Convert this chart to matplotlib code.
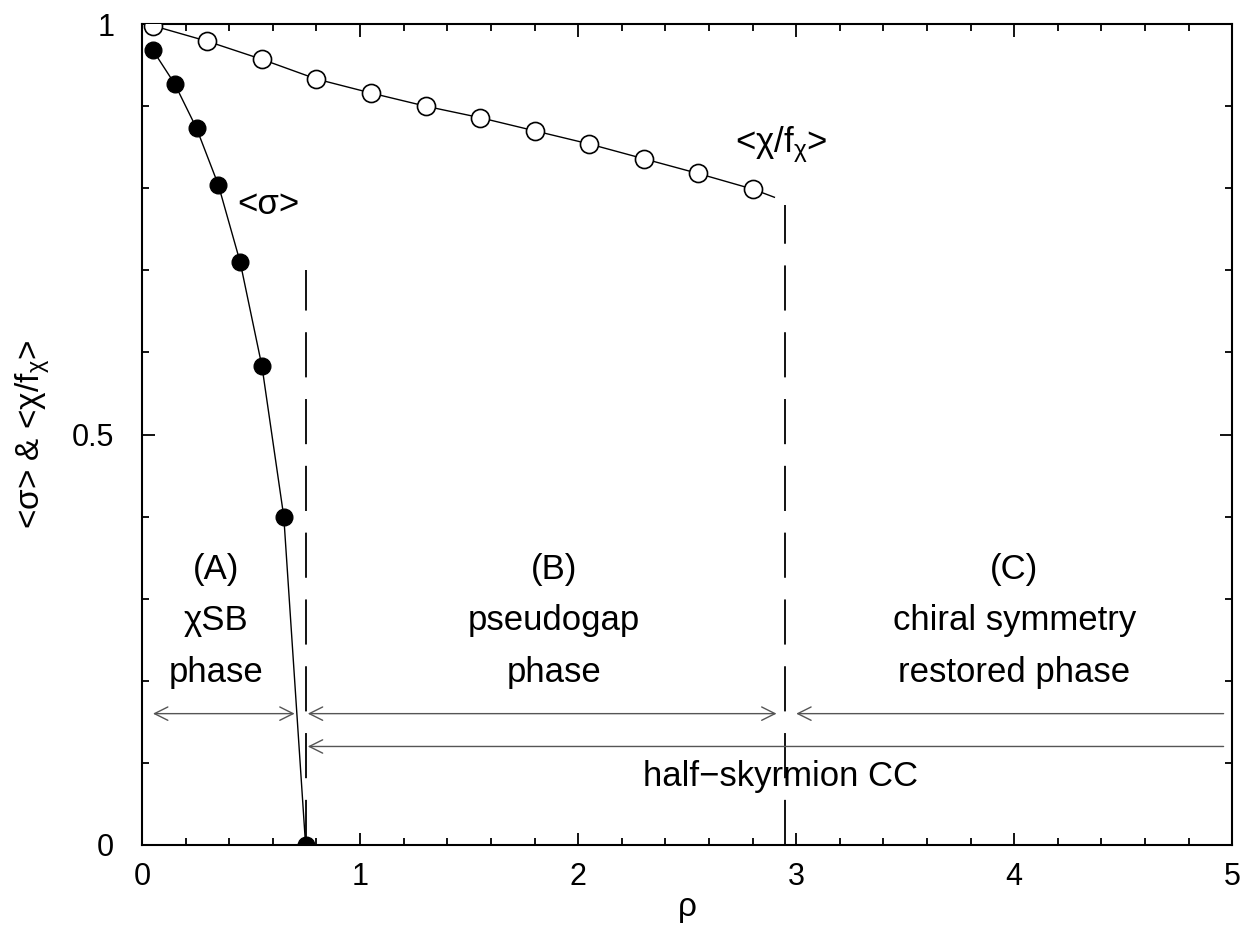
import numpy as np
import matplotlib.pyplot as plt

plt.rcParams['font.family'] = ['Liberation Sans', 'DejaVu Sans']
plt.rcParams['mathtext.fontset'] = 'custom'
plt.rcParams['mathtext.rm'] = 'Liberation Sans'
plt.rcParams['mathtext.it'] = 'Liberation Sans'

# <sigma> (filled circles)
rho_sigma = [0.05, 0.15, 0.25, 0.35, 0.45, 0.55, 0.65, 0.75]
sigma = [0.968, 0.927, 0.873, 0.804, 0.710, 0.583, 0.400, 0.0]

# <chi/f_chi> (open circles)
rho_chi = [0.05, 0.30, 0.55, 0.80, 1.05, 1.30, 1.55, 1.80, 2.05, 2.30, 2.55, 2.80]
chi = [0.998, 0.979, 0.957, 0.933, 0.916, 0.900, 0.886, 0.870, 0.854, 0.836, 0.818, 0.799]
# the connecting line runs a bit past the last point
chi_line_end = (2.90, 0.789)

# phase boundaries
rho_b1 = 0.75
rho_b2 = 2.95

fig = plt.figure(figsize=(12.46, 9.25), dpi=100)
ax = fig.add_axes([0.114, 0.0865, 0.875, 0.8875])

# lines + markers
ax.plot(rho_sigma, sigma, color='black', lw=1.0, zorder=2)
ax.plot(rho_sigma, sigma, 'o', color='black', ms=12, zorder=3)
ax.plot(rho_chi + [chi_line_end[0]], chi + [chi_line_end[1]], color='black', lw=1.0, zorder=2)
ax.plot(rho_chi, chi, 'o', mfc='white', mec='black', mew=1.2, ms=13, zorder=3)

# dashed boundaries
ax.plot([rho_b1, rho_b1], [0, 0.70], color='black', lw=1.3, dashes=(25, 12), zorder=1)
ax.plot([rho_b2, rho_b2], [0, 0.78], color='black', lw=1.3, dashes=(25, 12), zorder=1)

# arrows
akw = dict(color='#555555', lw=1.0, mutation_scale=24, shrinkA=0, shrinkB=0)
ax.annotate('', xy=(0.70, 0.16), xytext=(0.05, 0.16),
            arrowprops=dict(arrowstyle='<->', **akw))
ax.annotate('', xy=(2.91, 0.16), xytext=(0.76, 0.16),
            arrowprops=dict(arrowstyle='<->', **akw))
ax.annotate('', xy=(3.0, 0.16), xytext=(4.96, 0.16),
            arrowprops=dict(arrowstyle='->', **akw))
ax.annotate('', xy=(0.76, 0.12), xytext=(4.96, 0.12),
            arrowprops=dict(arrowstyle='->', **akw))

# labels
fs = 25
ax.text(0.34, 0.335, '(A)', ha='center', va='center', fontsize=fs)
ax.text(0.34, 0.273, 'χSB', ha='center', va='center', fontsize=fs)
ax.text(0.34, 0.21, 'phase', ha='center', va='center', fontsize=fs)
ax.text(1.89, 0.335, '(B)', ha='center', va='center', fontsize=fs)
ax.text(1.89, 0.273, 'pseudogap', ha='center', va='center', fontsize=fs)
ax.text(1.89, 0.21, 'phase', ha='center', va='center', fontsize=fs)
ax.text(4.0, 0.335, '(C)', ha='center', va='center', fontsize=fs)
ax.text(4.0, 0.273, 'chiral symmetry', ha='center', va='center', fontsize=fs)
ax.text(4.0, 0.21, 'restored phase', ha='center', va='center', fontsize=fs)
ax.text(2.93, 0.083, 'half\u2212skyrmion CC', ha='center', va='center', fontsize=fs)
ax.text(0.58, 0.78, '<σ>', ha='center', va='center', fontsize=fs)
ax.text(2.93, 0.853, r'<χ/f$_\mathrm{χ}$>', ha='center', va='center', fontsize=fs)

ax.set_xlim(0, 5)
ax.set_ylim(0, 1)
ax.set_xticks([0, 1, 2, 3, 4, 5])
ax.set_xticklabels(['0', '1', '2', '3', '4', '5'])
ax.set_xticks(np.arange(0, 5.01, 0.2), minor=True)
ax.set_yticks([0, 0.5, 1])
ax.set_yticklabels(['0', '0.5', '1'])
ax.set_yticks(np.arange(0, 1.01, 0.1), minor=True)
ax.tick_params(which='both', direction='in', top=True, right=True, labelsize=22, width=1.3)
ax.tick_params(which='major', length=9)
ax.tick_params(which='minor', length=5)
ax.tick_params(axis='x', which='major', pad=12)
ax.tick_params(axis='y', which='major', pad=20)
for s in ax.spines.values():
    s.set_linewidth(1.5)

ax.set_xlabel('ρ', fontsize=24, labelpad=0)
ax.set_ylabel(r'<σ> & <χ/f$_\mathrm{χ}$>', fontsize=24, labelpad=14)

fig.savefig('out.png', dpi=100)
